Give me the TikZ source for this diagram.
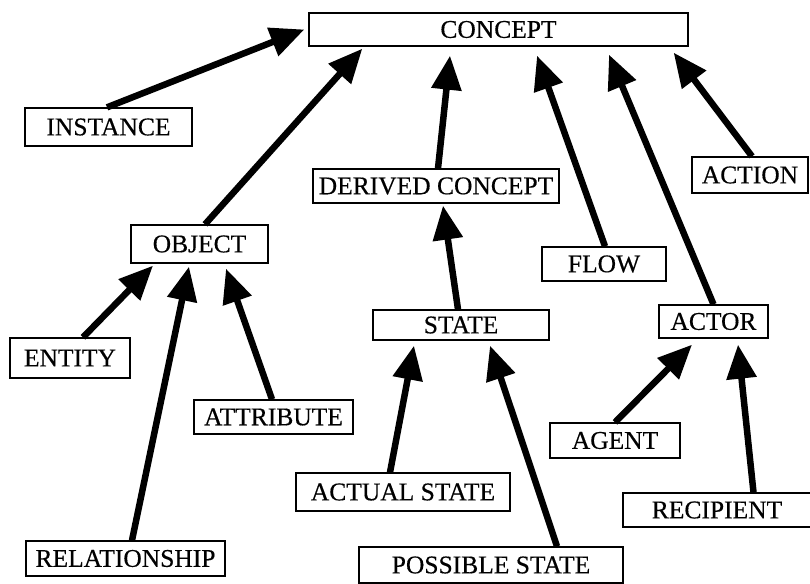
\documentclass[tikz,border=0pt]{standalone}
\usepackage{fontspec}
\setmainfont{Liberation Serif}[FakeBold=0.4]
\usetikzlibrary{arrows.meta}
\begin{document}
\begin{tikzpicture}[x=1pt,y=1pt,
  box/.style={draw, line width=1.3pt, rectangle, inner sep=0pt,
    font=\fontsize{25.5}{28}\selectfont},
  isa/.style={line width=6.5pt, -{Triangle[length=34pt,width=29pt]}}]
\useasboundingbox (0,0) rectangle (810,583);

% concept boxes: centre (x, 583 - y) with measured width and height
\node[box, minimum width=379pt, minimum height=33pt] (concept)  at (498.5,553.5) {CONCEPT};
\node[box, minimum width=167pt, minimum height=38pt] (instance) at (108.5,456)   {INSTANCE};
\node[box, minimum width=246pt, minimum height=34pt] (derived)  at (436,397)     {DERIVED CONCEPT};
\node[box, minimum width=116pt, minimum height=36pt] (action)   at (750,408)     {ACTION};
\node[box, minimum width=124pt, minimum height=34pt] (flow)     at (604,319)     {FLOW};
\node[box, minimum width=137pt, minimum height=38pt] (object)   at (199.5,339)   {OBJECT};
\node[box, minimum width=176pt, minimum height=30pt] (state)    at (461,258)     {STATE};
\node[box, minimum width=109pt, minimum height=33pt] (actor)    at (713.5,261.5) {ACTOR};
\node[box, minimum width=120pt, minimum height=40pt] (entity)   at (70,225)      {ENTITY};
\node[box, minimum width=159pt, minimum height=34pt] (attribute) at (273.5,166)  {ATTRIBUTE};
\node[box, minimum width=214pt, minimum height=38pt] (actual)   at (403,91)      {ACTUAL STATE};
\node[box, minimum width=264pt, minimum height=36pt] (possible) at (491,18)      {POSSIBLE STATE};
\node[box, minimum width=130pt, minimum height=35pt] (agent)    at (615,142.5)   {AGENT};
\node[box, minimum width=188pt, minimum height=34pt] (recipient) at (717,73)     {RECIPIENT};
\node[box, minimum width=199pt, minimum height=35pt] (relationship) at (125.5,24.5) {RELATIONSHIP};

% is-a links, each from the child's top edge towards its parent
\draw[isa] ([xshift=-1.5pt]instance.north) -- ([xshift=-4pt]concept.west);
\draw[isa] ([xshift=5.5pt]object.north) -- ([xshift=54pt,yshift=-2pt]concept.south west);
\draw[isa] ([xshift=2pt]derived.north) -- ([xshift=-48.5pt,yshift=-9pt]concept.south);
\draw[isa] ([xshift=1pt]flow.north) -- ([xshift=38.5pt,yshift=-9pt]concept.south);
\draw[isa] (actor.north) -- ([xshift=110.5pt,yshift=-8pt]concept.south);
\draw[isa] ([xshift=2pt]action.north) -- ([xshift=-15pt,yshift=-6pt]concept.south east);
\draw[isa] ([xshift=-3pt]state.north) -- ([xshift=7pt,yshift=-2pt]derived.south);
\draw[isa] ([xshift=13pt]entity.north) -- ([xshift=-46.5pt,yshift=-2pt]object.south);
\draw[isa] ([xshift=6.5pt]relationship.north) -- ([xshift=-10.5pt,yshift=-3pt]object.south);
\draw[isa] ([xshift=-1.5pt]attribute.north) -- ([xshift=26.5pt,yshift=-5pt]object.south);
\draw[isa] ([xshift=-13pt]actual.north) -- ([xshift=-47pt,yshift=-5pt]state.south);
\draw[isa] ([xshift=66pt]possible.north) -- ([xshift=29pt,yshift=-5pt]state.south);
\draw[isa] (agent.north) -- ([xshift=-21.5pt,yshift=-6pt]actor.south);
\draw[isa] ([xshift=36.5pt]recipient.north) -- ([xshift=24.5pt,yshift=-6pt]actor.south);
\end{tikzpicture}
\end{document}
